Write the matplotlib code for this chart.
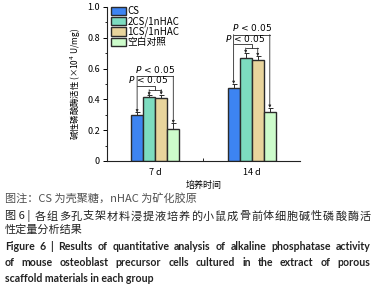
import numpy as np
import matplotlib.pyplot as plt
from matplotlib.ticker import MultipleLocator

plt.rcParams['font.family'] = ['Noto Sans CJK SC', 'DejaVu Sans']
plt.rcParams['mathtext.fontset'] = 'dejavusans'

# data
groups = ['7 d', '14 d']
series = ['CS', '2CS/1nHAC', '1CS/1nHAC', '空白对照']
cs = [0.30, 0.475]
cs_err = [0.015, 0.025]
cs2 = [0.415, 0.67]
cs2_err = [0.01, 0.03]
cs1 = [0.41, 0.655]
cs1_err = [0.02, 0.025]
blank = [0.21, 0.32]
blank_err = [0.035, 0.025]
colors = ['#3d84f2', '#7ddcc0', '#e8d49c', '#cdfccb']

fig = plt.figure(figsize=(3.74, 2.91), dpi=100)
ax = fig.add_axes([0.286, 0.447, 0.516, 0.529])

x = np.arange(len(groups))
w = 0.125
vals = [cs, cs2, cs1, blank]
errs = [cs_err, cs2_err, cs1_err, blank_err]
offs = [-1.5 * w, -0.5 * w, 0.5 * w, 1.5 * w]
for v, e, o, c, lab in zip(vals, errs, offs, colors, series):
    ax.bar(x + o, v, w, color=c, edgecolor='#2b2b2b', linewidth=1.0, label=lab)
    ax.errorbar(x + o, v, yerr=[np.zeros(len(v)), e], fmt='none',
                ecolor='#2b2b2b', elinewidth=0.7, capsize=1.8, capthick=0.7)

# significance brackets
lc = '#2b2b2b'
def drop(xp, y0, y1):
    ax.annotate('', xy=(xp, y1), xytext=(xp, y0),
                arrowprops=dict(arrowstyle='-|>', color=lc, lw=0.6,
                                mutation_scale=3.5, shrinkA=0, shrinkB=0))

for i in range(len(groups)):
    tops = [v[i] + e[i] for v, e in zip(vals, errs)]
    xs = [x[i] + o for o in offs]
    top = max(tops)
    y_small = top + 0.033
    y_inner = top + 0.058
    y_outer = top + 0.12
    ax.plot([xs[1], xs[2]], [y_small, y_small], color=lc, lw=0.6)
    drop(xs[1], y_small, tops[1])
    drop(xs[2], y_small, tops[2])
    xm = (xs[1] + xs[2]) / 2
    ax.plot([xs[0], xm, xm], [y_inner, y_inner, y_small], color=lc, lw=0.6)
    ax.plot([xs[0], xs[3]], [y_outer, y_outer], color=lc, lw=0.6)
    drop(xs[0], y_outer, tops[0])
    drop(xs[3], y_outer, tops[3])
    ax.text((xs[0] + xs[3]) / 2, y_outer + 0.01, r'$P$ < 0.05', ha='center',
            va='bottom', fontsize=6.5, family='DejaVu Sans')
    ax.text((xs[0] + xm) / 2 + 0.02, y_inner + 0.004, r'$P$ < 0.05', ha='center',
            va='bottom', fontsize=6.5, family='DejaVu Sans')

ax.set_xlim(-0.5, 1.5)
ax.set_ylim(0, 1.0)
ax.set_xticks(x)
ax.set_xticklabels(groups, fontsize=6.5)
ax.set_xticks([0.5], minor=True)
ax.tick_params(axis='x', which='major', length=0, pad=5)
ax.tick_params(axis='x', which='minor', length=2.5, direction='in', width=0.6)
ax.set_yticks([0, 0.2, 0.4, 0.6, 0.8, 1.0])
ax.set_yticklabels(['0', '0.2', '0.4', '0.6', '0.8', '1.0'], fontsize=6.5)
ax.yaxis.set_minor_locator(MultipleLocator(0.1))
ax.tick_params(axis='y', which='major', length=3, width=0.7, pad=2)
ax.tick_params(axis='y', which='minor', length=1.8, width=0.6)
ax.spines['top'].set_visible(False)
ax.spines['right'].set_visible(False)
for s in ['left', 'bottom']:
    ax.spines[s].set_linewidth(0.8)
    ax.spines[s].set_color('#222222')
ax.set_xlabel('培养时间', fontsize=6.5, labelpad=3)
ax.set_ylabel('碱性磷酸酶活性 (×10$^{4}$ U/mg)', fontsize=6, labelpad=3)

ax.legend(loc='upper left', bbox_to_anchor=(0.015, 1.01), frameon=False,
          fontsize=7, handlelength=1.6, handleheight=0.95, labelspacing=0.0,
          handletextpad=0.1, borderpad=0.1, borderaxespad=0)

# caption below the chart
renderer = fig.canvas.get_renderer()

def justify(tokens, ypix, x0=0.013, x1=0.99, **kw):
    # spread words evenly so the line fills x0..x1 like the printed caption
    ts = [fig.text(0, 1 - ypix / 291, t, va='center', **kw) for t in tokens]
    widths = [t.get_window_extent(renderer).width / fig.bbox.width for t in ts]
    gap = (x1 - x0 - sum(widths)) / (len(ts) - 1)
    xp = x0
    for t, wd in zip(ts, widths):
        t.set_x(xp)
        xp += wd + gap

fig.text(0.013, 1 - 198 / 291, '图注：CS 为壳聚糖，nHAC 为矿化胶原', fontsize=8,
         color='#505050', va='center')
# second Chinese line: fixed pitch characters stretched to the full width
prefix = fig.text(0.013, 1 - 216.5 / 291, '图 6 |', fontsize=8, color='#222222',
                  va='center')
pw = prefix.get_window_extent(renderer).width / fig.bbox.width
zh2 = '各组多孔支架材料浸提液培养的小鼠成骨前体细胞碱性磷酸酶活'
char_w = 8 * 100 / 72 / fig.bbox.width
centers = np.linspace(0.013 + pw + 0.012 + char_w / 2, 0.99 - char_w / 2, len(zh2))
for ch, cx in zip(zh2, centers):
    fig.text(cx, 1 - 216.5 / 291, ch, fontsize=8, color='#222222', va='center',
             ha='center')
fig.text(0.013, 1 - 229.5 / 291, '性定量分析结果', fontsize=8, color='#222222', va='center')
eng = ['Figure 6 | Results of quantitative analysis of alkaline phosphatase activity',
       'of mouse osteoblast precursor cells cultured in the extract of porous']
for k, line in enumerate(eng):
    justify(line.split(' '), 246.5 + 16.3 * k, fontsize=7.6, fontweight='bold',
            color='#222222', family='Lato')
fig.text(0.013, 1 - 279 / 291, 'scaffold materials in each group', fontsize=7.6,
         fontweight='bold', color='#222222', va='center', family='Lato')

fig.savefig('out.png', dpi=100)
